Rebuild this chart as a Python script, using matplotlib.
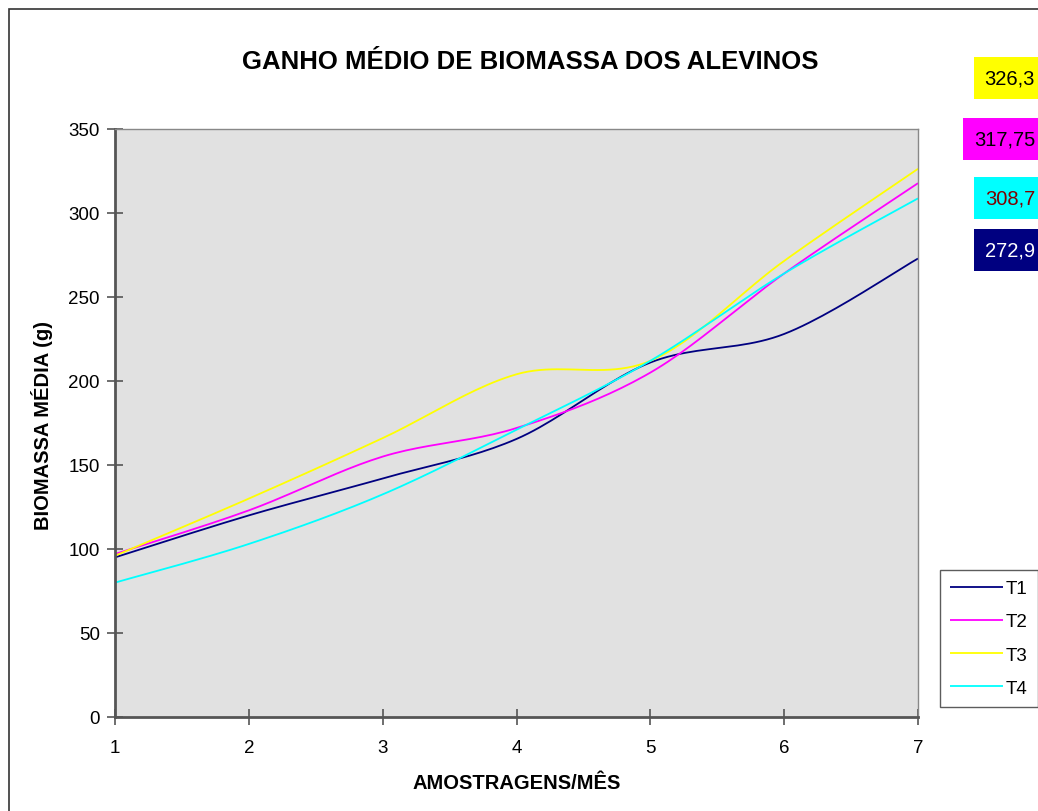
import numpy as np
import matplotlib
matplotlib.use("Agg")
import matplotlib.pyplot as plt
from matplotlib.patches import Rectangle

plt.rcParams['font.family'] = ['Liberation Sans', 'DejaVu Sans']

# data
meses = [1, 2, 3, 4, 5, 6, 7]
t1 = [95, 120, 142, 165.5, 211, 228, 272.9]
t2 = [97, 123, 155, 172, 205, 264, 317.75]
t3 = [96, 130, 166, 204, 212, 271.5, 326.3]
t4 = [80, 103, 132.5, 171, 212, 264, 308.7]
series = ["T1", "T2", "T3", "T4"]
colors = ["#000080", "#FF00FF", "#FFFF00", "#00FFFF"]
final_labels = ["272,9", "317,75", "326,3", "308,7"]


def smooth(x, y, n=24):
    # Excel-like smoothed line (Catmull-Rom style Bezier through each point)
    x = np.asarray(x, float)
    y = np.asarray(y, float)
    px = np.concatenate([[x[0]], x, [x[-1]]])
    py = np.concatenate([[y[0]], y, [y[-1]]])
    xs, ys = [], []
    t = np.linspace(0, 1, n)
    for i in range(1, len(px) - 2):
        p0 = np.array([px[i], py[i]])
        p3 = np.array([px[i + 1], py[i + 1]])
        p1 = p0 + (np.array([px[i + 1], py[i + 1]]) - np.array([px[i - 1], py[i - 1]])) / 6
        p2 = p3 - (np.array([px[i + 2], py[i + 2]]) - np.array([px[i], py[i]])) / 6
        b = ((1 - t) ** 3)[:, None] * p0 + (3 * (1 - t) ** 2 * t)[:, None] * p1 \
            + (3 * (1 - t) * t ** 2)[:, None] * p2 + (t ** 3)[:, None] * p3
        xs.extend(b[:, 0])
        ys.extend(b[:, 1])
    return xs, ys


W, H = 1038, 812
fig = plt.figure(figsize=(W / 100, H / 100), dpi=100)

# outer chart border
fig.patches.append(Rectangle((9 / W, -0.05), 1.1, 1 - 10 / H + 0.05, transform=fig.transFigure,
                             fill=False, edgecolor="#333333", lw=1.2))

ax = fig.add_axes([115 / W, 1 - 718 / H, (918 - 115) / W, (718 - 130) / H])
ax.set_facecolor("#E1E1E1")

for name, vals, c in zip(series, [t1, t2, t3, t4], colors):
    sx, sy = smooth(meses, vals)
    ax.plot(sx, sy, color=c, lw=1.3, label=name, solid_capstyle='butt')

ax.set_xlim(1, 7)
ax.set_ylim(0, 350)
ax.set_xticks(meses)
ax.set_yticks(range(0, 351, 50))
ax.tick_params(axis='both', direction='inout', length=12, width=1.2, color="#555555",
               labelsize=13.5, pad=5)
ax.tick_params(axis='x', pad=10)

for s in ['top', 'right']:
    ax.spines[s].set_color("#888888")
    ax.spines[s].set_linewidth(1)
for s in ['left', 'bottom']:
    ax.spines[s].set_color("#555555")
    ax.spines[s].set_linewidth(2)

fig.text(530 / W, 1 - 62 / H, "GANHO MÉDIO DE BIOMASSA DOS ALEVINOS", ha='center', va='center',
         fontsize=18.5, fontweight='bold')
fig.text(517 / W, 1 - 784 / H, "AMOSTRAGENS/MÊS", ha='center', va='center',
         fontsize=14.5, fontweight='bold')
fig.text(42 / W, 1 - 425 / H, "BIOMASSA MÉDIA (g)", ha='center', va='center',
         fontsize=14.5, fontweight='bold', rotation=90)

leg = ax.legend(loc='upper left', bbox_to_anchor=(940 / W, 1 - 571 / H), bbox_transform=fig.transFigure,
                frameon=True, fancybox=False, fontsize=13.5, handlelength=2.8, handletextpad=0.15,
                labelspacing=0.85, borderpad=0.55, borderaxespad=0)
leg.get_frame().set_edgecolor("#333333")
leg.get_frame().set_linewidth(1)

# value boxes for the last month
box_y = [251, 140, 79, 199]
text_colors = ["white", "black", "black", "#800000"]
for lab, c, yb, tc in zip(final_labels, colors, box_y, text_colors):
    fig.text(1035 / W, 1 - yb / H, lab, ha='right', va='center', fontsize=14.5, color=tc,
             bbox=dict(boxstyle='square,pad=0.55', facecolor=c, edgecolor='none'))

fig.savefig("out.png", dpi=100)
